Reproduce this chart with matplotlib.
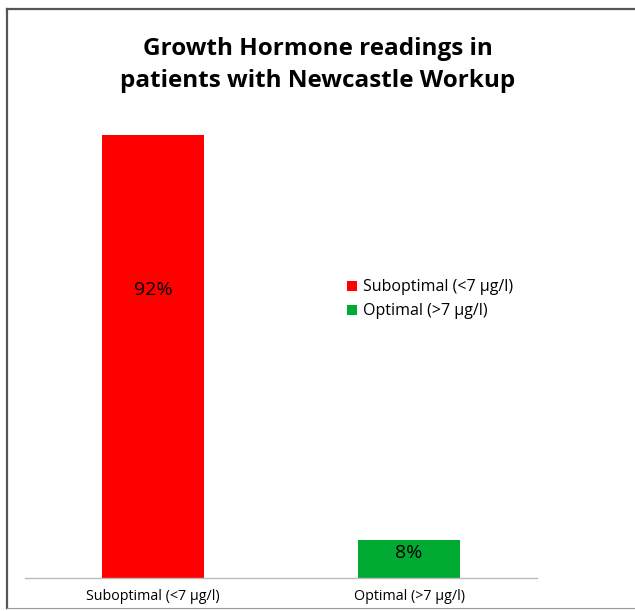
import matplotlib
matplotlib.use("Agg")
import matplotlib.pyplot as plt

categories = ["Suboptimal (<7 µg/l)", "Optimal (>7 µg/l)"]
values = [92, 8]
labels = ["92%", "8%"]
colors = ["#FF0000", "#00AA33"]
title = "Growth Hormone readings in\npatients with Newcastle Workup"

plt.rcParams['font.family'] = ['Open Sans', 'DejaVu Sans']

W, H = 635, 611
fig = plt.figure(figsize=(W/100, H/100), dpi=100)
fig.patch.set_facecolor("white")

# outer border (left, top, bottom)
fig.add_artist(plt.Line2D([7/W, 7/W], [1-9/H, 1-608/H], color="#555555", lw=1.6, transform=fig.transFigure))
fig.add_artist(plt.Line2D([7/W, 1.0], [1-9/H, 1-9/H], color="#555555", lw=1.6, transform=fig.transFigure))
fig.add_artist(plt.Line2D([7/W, 1.0], [1-608/H, 1-608/H], color="#999999", lw=0.8, transform=fig.transFigure))

left, right = 25/W, 537/W
bottom, top = 1-578/H, 1-97/H
ax = fig.add_axes([left, bottom, right-left, top-bottom])
x = range(len(categories))
bars = ax.bar(x, values, width=0.4, color=colors, label=categories)
ax.set_xlim(-0.5, 1.5)
ax.set_ylim(0, 100)
for s in ["top", "right", "left"]:
    ax.spines[s].set_visible(False)
ax.spines["bottom"].set_color("#BBBBBB")
ax.spines["bottom"].set_linewidth(1.0)
ax.set_yticks([])
ax.set_xticks(list(x))
ax.set_xticklabels(categories, fontsize=10.3)
ax.tick_params(axis="x", length=0, pad=8)

for i, (v, lab) in enumerate(zip(values, labels)):
    ax.text(i, v*0.65, lab, ha="center", va="center", fontsize=14, color="black")

fig.text(318/W, 1-65/H, title, ha="center", va="center", fontsize=17.5, fontweight="bold",
         linespacing=1.4)

leg = ax.legend(handles=bars, labels=categories, loc="upper left",
                bbox_to_anchor=(333/W, 1-265/H), bbox_transform=fig.transFigure,
                frameon=False, fontsize=11.5, handlelength=0.6, handleheight=0.6,
                handletextpad=0.4, labelspacing=0.5)

fig.savefig("out.png", dpi=100, facecolor="white")
